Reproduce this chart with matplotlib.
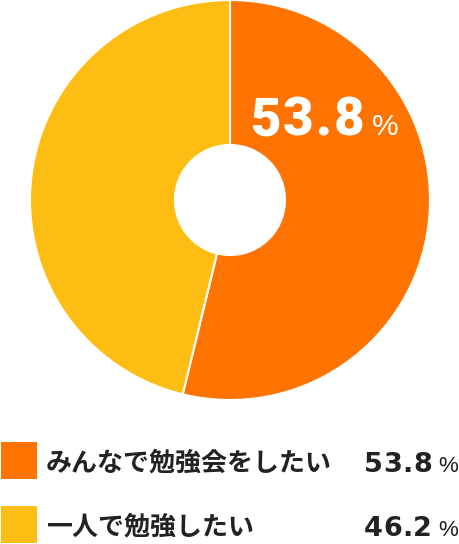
import matplotlib
matplotlib.use("Agg")
import matplotlib.pyplot as plt

labels = ["みんなで勉強会をしたい", "一人で勉強したい"]
values = [53.8, 46.2]
colors = ["#FF7300", "#FDBD13"]

W, H = 460, 544
fig = plt.figure(figsize=(W / 100, H / 100), dpi=100)

# donut: centre (230, 200) px, outer radius 200 px
ax = fig.add_axes([30 / W, (H - 400) / H, 400 / W, 400 / H])
ax.pie(values, colors=colors, startangle=90, counterclock=False, radius=1.0,
       wedgeprops=dict(width=1 - 55 / 200, edgecolor="white", linewidth=1.5))
ax.set_xlim(-1, 1)
ax.set_ylim(-1, 1)
ax.set_aspect("equal")
ax.axis("off")

# overlay in pixel coordinates for text and legend
ov = fig.add_axes([0, 0, 1, 1])
ov.set_xlim(0, W)
ov.set_ylim(H, 0)
ov.axis("off")

renderer = fig.canvas.get_renderer()
jp = ["Noto Sans CJK JP", "DejaVu Sans"]


def spaced(s, x, y, track, ha="left", **kw):
    """draw a string char by char with extra letter spacing (px)"""
    parts = [ov.text(0, y, c, ha="left", va="baseline", **kw) for c in s]
    widths = [t.get_window_extent(renderer).width for t in parts]
    total = sum(widths) + track * (len(s) - 1)
    pos = x - total if ha == "right" else x
    for t, w in zip(parts, widths):
        t.set_x(pos)
        pos += w + track


# big label on the larger slice
spaced(f"{values[0]:.1f}", 364, 135, 1.8, ha="right", color="white",
       fontsize=38, fontweight="black", family="Roboto")
ov.text(372, 135, "%", color="white", fontsize=21.5, family="Liberation Sans",
        ha="left", va="baseline")

# legend rows
rows_y = [442, 506]
for lab, val, col, y in zip(labels, values, colors, rows_y):
    sq = plt.Rectangle((1, y), 36, 37, facecolor=col, edgecolor="none")
    ov.add_patch(sq)
    ov.text(46, y + 21, lab, color="#222222", fontsize=18.7, fontweight="bold",
            family=jp, ha="left", va="center")
    spaced(f"{val:.1f}", 432, y + 29.5, 0.3, ha="right", color="#222222",
           fontsize=19.5, fontweight="bold", family="DejaVu Sans")
    ov.text(458, y + 29.5, "%", color="#222222", fontsize=16,
            family="Liberation Sans", ha="right", va="baseline")

fig.savefig("out.png", dpi=100)
